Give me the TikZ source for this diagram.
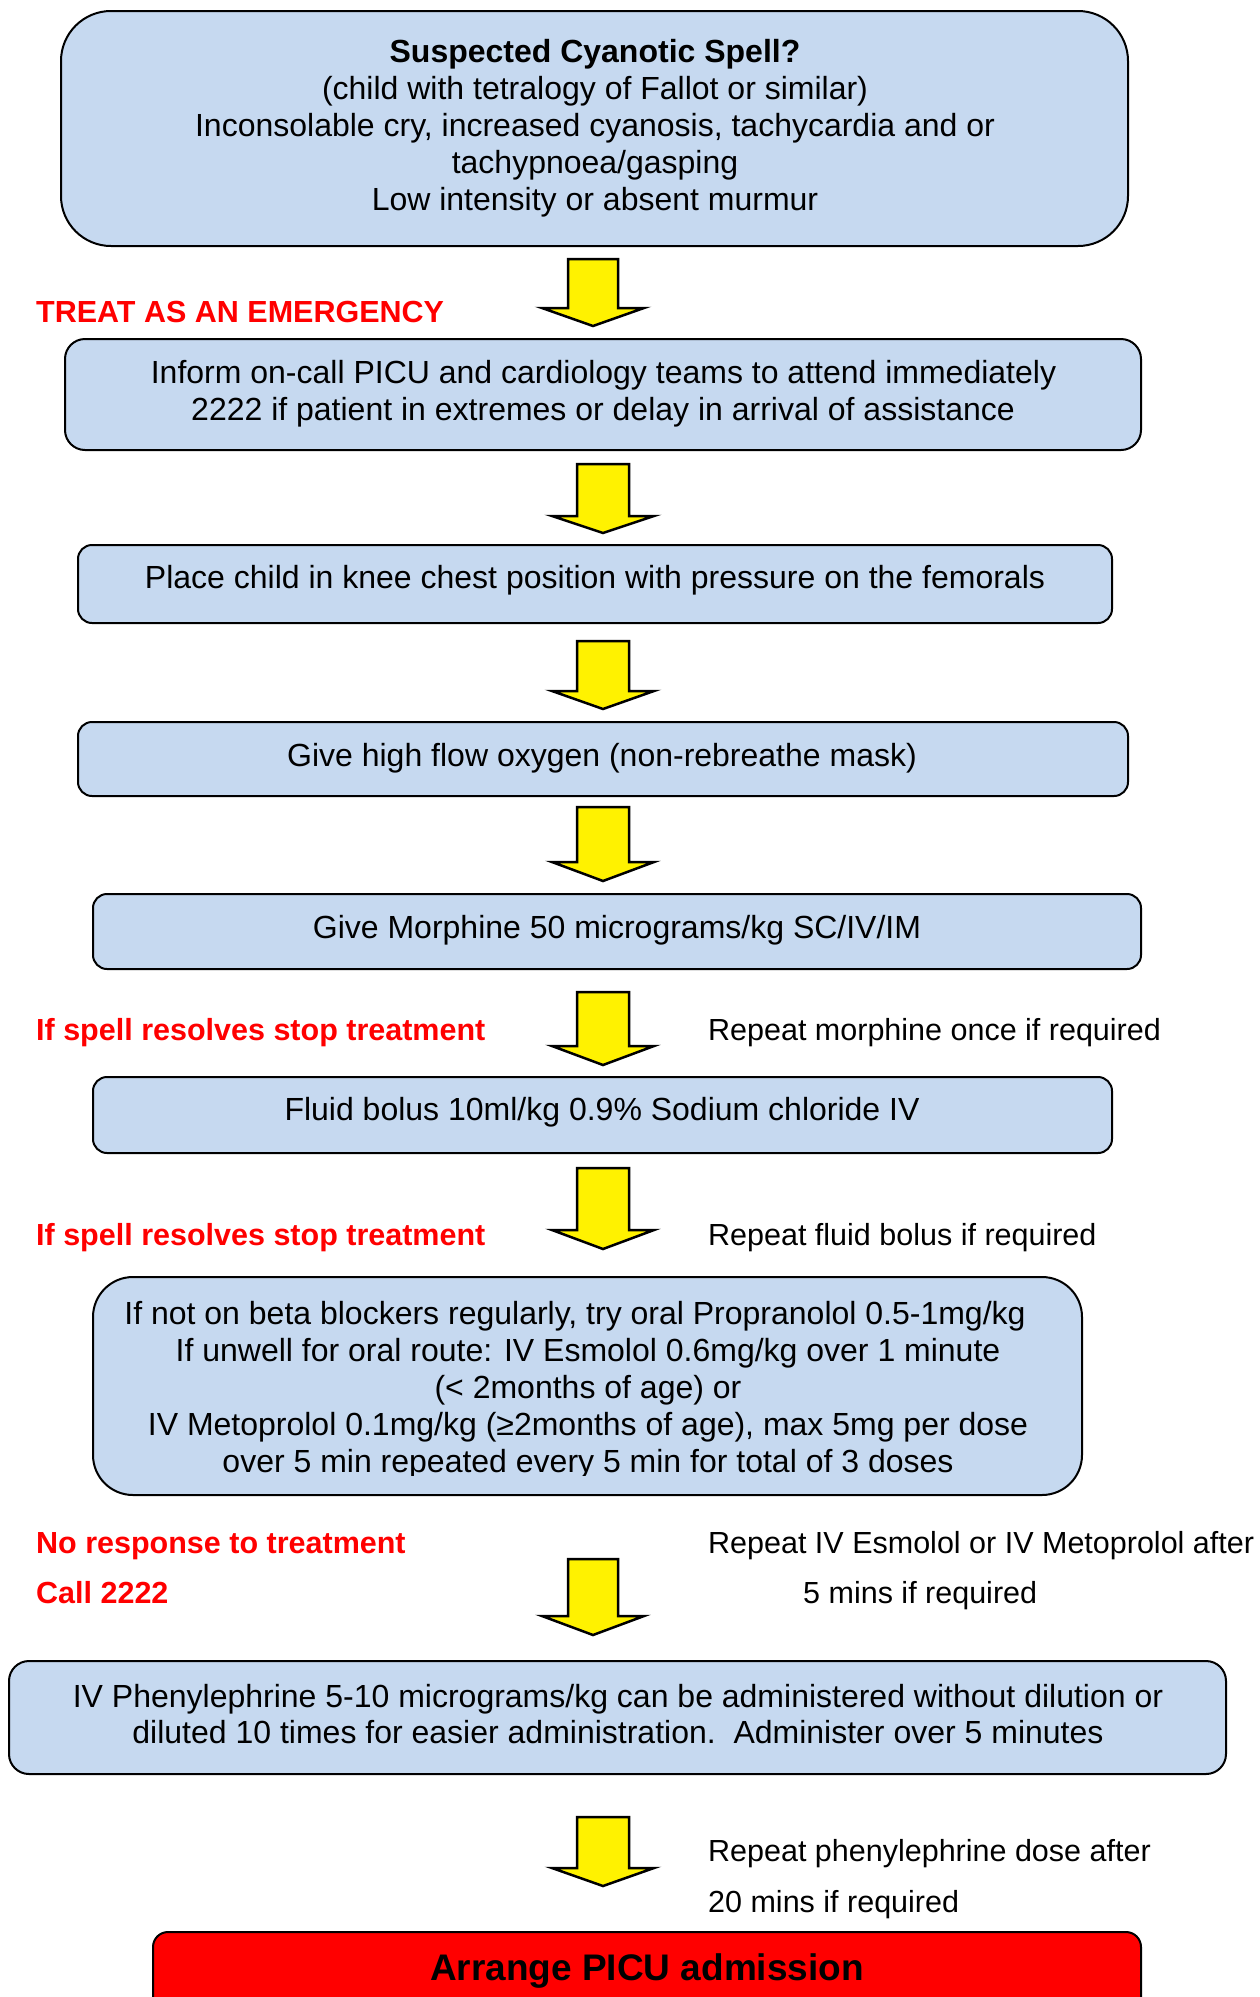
\documentclass[tikz,border=0pt]{standalone}
\usepackage{fontspec}
\setmainfont{Liberation Sans}
\definecolor{boxblue}{RGB}{198,217,240}
\newcommand\yarr[6]{\draw[yarrow] ({#1-#5},#2) -- ({#1+#5},#2) -- ({#1+#5},#3) -- ({#1+#6},#3) -- (#1,#4) -- ({#1-#6},#3) -- ({#1-#5},#3) -- cycle;}
\begin{document}
\begin{tikzpicture}[x=1pt,y=-1pt,
  flowbox/.style={draw=black, line width=2pt, fill=boxblue, inner sep=0pt, outer sep=0pt},
  ln/.style={anchor=base, font=\fontsize{32}{37}\selectfont, inner sep=0pt},
  redlbl/.style={anchor=base west, text=red, font=\fontsize{30.5}{36}\selectfont\bfseries, inner sep=0pt},
  sidelbl/.style={anchor=base west, font=\fontsize{30.5}{36}\selectfont, inner sep=0pt},
  yarrow/.style={draw=black, line width=2.5pt, fill=yellow, line join=miter}]
\clip (0,0) rectangle (1259,1997);
\fill[white] (0,0) rectangle (1259,1997);

% Box 1
\node[flowbox, rounded corners=50pt, minimum width=1067pt, minimum height=235pt] (b1) at (594.5,128.5) {};
\node[ln] (t1a) at (595,62) {\bfseries Suspected Cyanotic Spell?};
\node[ln] (t1b) at (595,99) {(child with tetralogy of Fallot or similar)};
\node[ln] (t1c) at (595,136) {Inconsolable cry, increased cyanosis, tachycardia and or};
\node[ln] (t1d) at (595,173) {tachypnoea/gasping};
\node[ln] (t1e) at (595,210) {Low intensity or absent murmur};

\yarr{593}{259}{308}{326}{25}{51}
\node[redlbl] (l1) at (36,322) {TREAT AS AN EMERGENCY};

% Box 2
\node[flowbox, rounded corners=20pt, minimum width=1076pt, minimum height=111pt] (b2) at (603,394.5) {};
\node[ln] (t2a) at (603.5,383) {Inform on-call PICU and cardiology teams to attend immediately};
\node[ln] (t2b) at (603,420) {2222 if patient in extremes or delay in arrival of assistance};

\yarr{603}{464}{516}{533}{26}{51}

% Box 3
\node[flowbox, rounded corners=14pt, minimum width=1034pt, minimum height=78pt] (b3) at (595,584) {};
\node[ln] (t3) at (595,588) {Place child in knee chest position with pressure on the femorals};

\yarr{603}{641}{691}{709}{26}{51}

% Box 4
\node[flowbox, rounded corners=14pt, minimum width=1050pt, minimum height=74pt] (b4) at (603,759) {};
\node[ln] (t4) at (602,766) {Give high flow oxygen (non-rebreathe mask)};

\yarr{603}{807}{862}{881}{26}{51}

% Box 5
\node[flowbox, rounded corners=14pt, minimum width=1048pt, minimum height=75pt] (b5) at (617,931.5) {};
\node[ln] (t5) at (617,938) {Give Morphine 50 micrograms/kg SC/IV/IM};

\yarr{603}{992}{1046}{1065}{26}{51}
\node[redlbl] (l2) at (36,1040) {If spell resolves stop treatment};
\node[sidelbl] (s2) at (708,1040) {Repeat morphine once if required};

% Box 6
\node[flowbox, rounded corners=14pt, minimum width=1019pt, minimum height=76pt] (b6) at (602.5,1115) {};
\node[ln] (t6) at (602,1120) {Fluid bolus 10ml/kg 0.9\% Sodium chloride IV};

\yarr{603}{1168}{1230}{1249}{26}{51}
\node[redlbl] (l3) at (36,1245) {If spell resolves stop treatment};
\node[sidelbl] (s3) at (708,1245) {Repeat fluid bolus if required};

% Box 7
\node[flowbox, rounded corners=40pt, minimum width=989pt, minimum height=218pt] (b7) at (587.5,1386) {};
\begin{scope}
\clip (93,1277) rectangle (1082,1475);
\node[ln] (t7a) at (575,1324) {If not on beta blockers regularly, try oral Propranolol 0.5-1mg/kg};
\node[ln] (t7b) at (588,1361) {If unwell for oral route: IV Esmolol 0.6mg/kg over 1 minute};
\node[ln] (t7c) at (588,1398) {(< 2months of age) or};
\node[ln] (t7d) at (588,1435) {IV Metoprolol 0.1mg/kg (≥2months of age), max 5mg per dose};
\node[ln] (t7e) at (588,1472) {over 5 min repeated every 5 min for total of 3 doses};
\end{scope}

\node[redlbl] (l4) at (36,1553) {No response to treatment};
\node[redlbl] (l5) at (36,1603) {Call 2222};
\node[sidelbl] (s4) at (708,1553) {Repeat IV Esmolol or IV Metoprolol after};
\node[sidelbl] (s5) at (803,1603) {5 mins if required};
\yarr{593}{1559}{1616}{1635}{25}{51}

% Box 8
\node[flowbox, rounded corners=20pt, minimum width=1217pt, minimum height=113pt] (b8) at (617.5,1717.5) {};
\node[ln] (t8a) at (618,1707) {IV Phenylephrine 5-10 micrograms/kg can be administered without dilution or};
\node[ln] (t8b) at (618,1743) {diluted 10 times for easier administration.\ \ Administer over 5 minutes};

\yarr{603}{1817}{1868}{1886}{26}{51}
\node[sidelbl] (s6) at (708,1861) {Repeat phenylephrine dose after};
\node[sidelbl] (s7) at (708,1912) {20 mins if required};

% Box 9
\node[draw=black, line width=2pt, fill=red, rounded corners=15pt, inner sep=0pt, minimum width=988pt, minimum height=100pt] (b9) at (647,1982) {};
\node[anchor=base, inner sep=0pt, font=\fontsize{37}{42}\selectfont\bfseries] (t9) at (647,1980) {Arrange PICU admission};
\end{tikzpicture}
\end{document}
